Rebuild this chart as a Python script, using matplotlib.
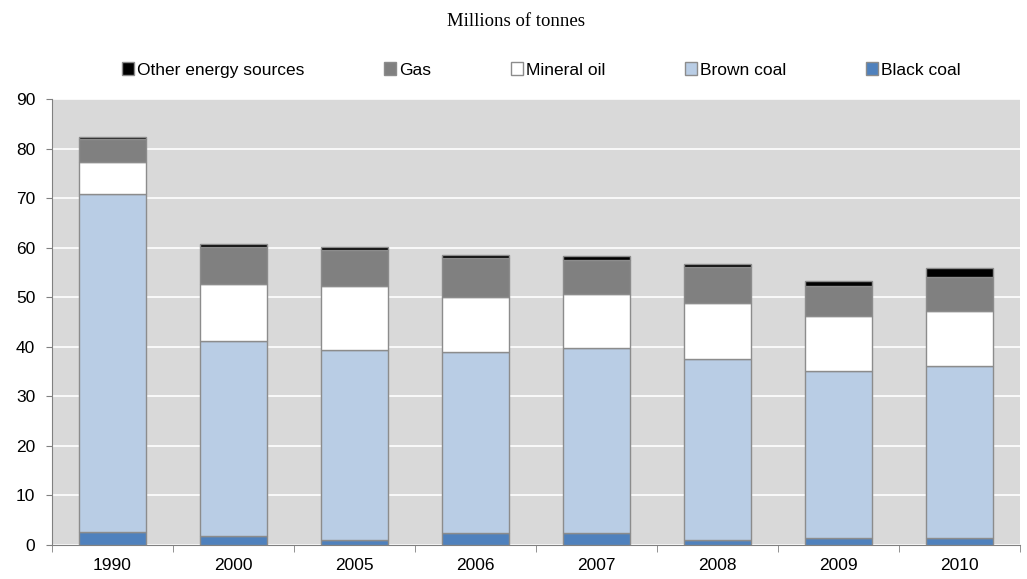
import matplotlib
matplotlib.use("Agg")
import matplotlib.pyplot as plt
import numpy as np

years = ["1990", "2000", "2005", "2006", "2007", "2008", "2009", "2010"]
black_coal = [2.6, 1.8, 1.0, 2.4, 2.4, 1.0, 1.4, 1.4]
brown_coal = [68.3, 39.4, 38.3, 36.5, 37.3, 36.5, 33.8, 34.7]
mineral_oil = [6.4, 11.4, 13.0, 11.1, 11.0, 11.3, 11.0, 11.1]
gas = [4.6, 7.6, 7.3, 8.0, 6.9, 7.3, 6.1, 6.9]
other = [0.5, 0.6, 0.6, 0.5, 0.7, 0.6, 0.9, 1.7]

series = [
    ("Black coal", black_coal, "#4F81BD"),
    ("Brown coal", brown_coal, "#B9CDE5"),
    ("Mineral oil", mineral_oil, "#FFFFFF"),
    ("Gas", gas, "#808080"),
    ("Other energy sources", other, "#000000"),
]

plt.rcParams["font.family"] = ["Liberation Sans", "DejaVu Sans"]

fig = plt.figure(figsize=(10.27, 5.79), dpi=100)
ax = fig.add_axes([52 / 1027, 1 - 545 / 579, (1020 - 52) / 1027, (545 - 99) / 579])
ax.set_facecolor("#D9D9D9")

x = np.arange(len(years))
bottom = np.zeros(len(years))
handles = {}
for name, vals, color in series:
    vals = np.array(vals)
    bars = ax.bar(x, vals, width=0.56, bottom=bottom, color=color,
                  edgecolor="#8C8C8C", linewidth=1.0, zorder=3, label=name)
    handles[name] = bars
    bottom += vals

ax.set_ylim(0, 90)
ax.set_xlim(-0.5, len(years) - 0.5)
ax.set_yticks(np.arange(0, 91, 10))
ax.yaxis.grid(True, color="white", linewidth=1.2, zorder=1)
ax.set_axisbelow(True)

ax.set_xticks(x)
ax.set_xticklabels(years, fontsize=12.5)
ax.set_xticks(np.arange(-0.5, len(years), 1), minor=True)
ax.tick_params(axis="x", which="major", length=0, pad=9)
ax.tick_params(axis="x", which="minor", length=5, color="#808080", direction="out")
ax.tick_params(axis="y", length=4, color="#808080", labelsize=12.5, pad=8)

for s in ["top", "right"]:
    ax.spines[s].set_visible(False)
for s in ["left", "bottom"]:
    ax.spines[s].set_color("#808080")

order = ["Other energy sources", "Gas", "Mineral oil", "Brown coal", "Black coal"]
fig.legend([handles[n] for n in order], order, loc="center",
           bbox_to_anchor=(0.527, 1 - 70 / 579), ncol=5, frameon=False,
           fontsize=12.5, handlelength=0.7, handleheight=0.7,
           handletextpad=0.15, columnspacing=4.6)

fig.text(0.502, 1 - 22 / 579, "Millions of tonnes", ha="center", va="center",
         fontsize=13.5, family=["Liberation Serif", "DejaVu Serif"])

fig.savefig("out.png", dpi=100)
